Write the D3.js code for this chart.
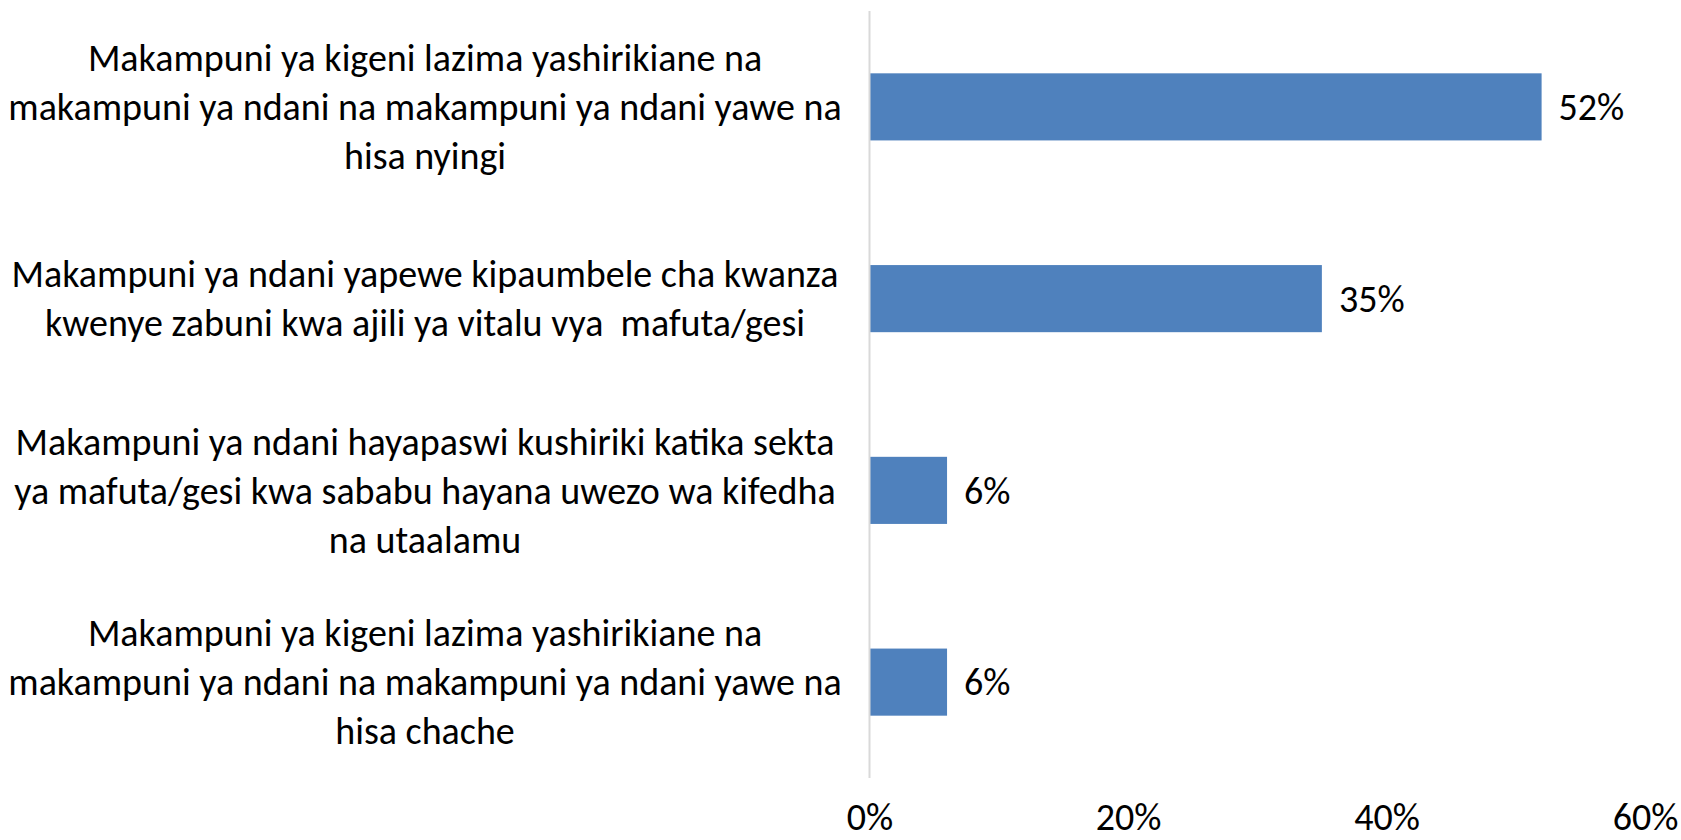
<!DOCTYPE html>
<html>
<head>
<meta charset="utf-8">
<script src="https://cdnjs.cloudflare.com/ajax/libs/d3/7.8.5/d3.min.js"></script>
<style>
  body { margin: 0; background: #fff; }
  svg text { font-family: Carlito, Calibri, "Liberation Sans Narrow", Lato, sans-serif; fill: #000; white-space: pre; }
</style>
</head>
<body>
<svg id="chart"></svg>
<script>
var categories = [
  ['Makampuni ya kigeni lazima yashirikiane na', 'makampuni ya ndani na makampuni ya ndani yawe na', 'hisa nyingi'],
  ['Makampuni ya ndani yapewe kipaumbele cha kwanza', 'kwenye zabuni kwa ajili ya vitalu vya  mafuta/gesi'],
  ['Makampuni ya ndani hayapaswi kushiriki katika sekta', 'ya mafuta/gesi kwa sababu hayana uwezo wa kifedha', 'na utaalamu'],
  ['Makampuni ya kigeni lazima yashirikiane na', 'makampuni ya ndani na makampuni ya ndani yawe na', 'hisa chache']
];
var values = [0.52, 0.35, 0.06, 0.06];
var tickValues = [0, 0.2, 0.4, 0.6];

var width = 1681, height = 840;
var margin = { top: 11, right: 36, bottom: 62, left: 869.5 };
var fontSize = 38, lineHeight = 49;

var svg = d3.select('#chart')
  .attr('width', width)
  .attr('height', height);

var x = d3.scaleLinear()
  .domain([0, 0.6])
  .range([margin.left, width - margin.right]);

var y = d3.scaleBand()
  .domain(d3.range(categories.length))
  .range([margin.top, height - margin.bottom])
  .paddingInner(0.65)
  .paddingOuter(0.325);

// bars
svg.selectAll('.bar')
  .data(values)
  .enter()
  .append('rect')
  .attr('class', 'bar')
  .attr('x', x(0))
  .attr('y', function (d, i) { return y(i); })
  .attr('width', function (d) { return x(d) - x(0); })
  .attr('height', y.bandwidth())
  .attr('fill', '#4F81BD');

// vertical axis line
svg.append('line')
  .attr('x1', x(0)).attr('x2', x(0))
  .attr('y1', margin.top).attr('y2', height - margin.bottom)
  .attr('stroke', '#D9D9D9')
  .attr('stroke-width', 2);

// value labels
svg.selectAll('.value-label')
  .data(values)
  .enter()
  .append('text')
  .attr('class', 'value-label')
  .attr('x', function (d) { return x(d) + 17; })
  .attr('y', function (d, i) { return y(i) + y.bandwidth() / 2; })
  .attr('dy', '0.35em')
  .style('font-size', fontSize + 'px')
  .text(function (d) { return Math.round(d * 100) + '%'; });

// category labels, centred on the band
var labelCenter = 425;
var catLabels = svg.selectAll('.cat-label')
  .data(categories)
  .enter()
  .append('text')
  .attr('class', 'cat-label')
  .attr('text-anchor', 'middle')
  .style('font-size', fontSize + 'px');

catLabels.each(function (lines, i) {
  var cy = y(i) + y.bandwidth() / 2;
  var top = cy - (lines.length - 1) * lineHeight / 2;
  d3.select(this).selectAll('tspan')
    .data(lines)
    .enter()
    .append('tspan')
    .attr('x', labelCenter)
    .attr('y', function (d, j) { return top + j * lineHeight; })
    .attr('dy', '0.35em')
    .text(function (d) { return d; });
});

// x axis tick labels
var xAxis = d3.axisBottom(x)
  .tickValues(tickValues)
  .tickFormat(d3.format('.0%'))
  .tickSize(0)
  .tickPadding(0);

var axisG = svg.append('g')
  .attr('transform', 'translate(0,' + (height - margin.bottom) + ')')
  .call(xAxis);
axisG.select('.domain').remove();
axisG.selectAll('text')
  .attr('y', 0)
  .attr('dy', 0)
  .attr('transform', 'translate(0,' + 52 + ')')
  .style('font-size', fontSize + 'px')
  .style('font-family', 'Carlito, Calibri, "Liberation Sans Narrow", Lato, sans-serif')
  .attr('fill', '#000');
</script>
</body>
</html>
